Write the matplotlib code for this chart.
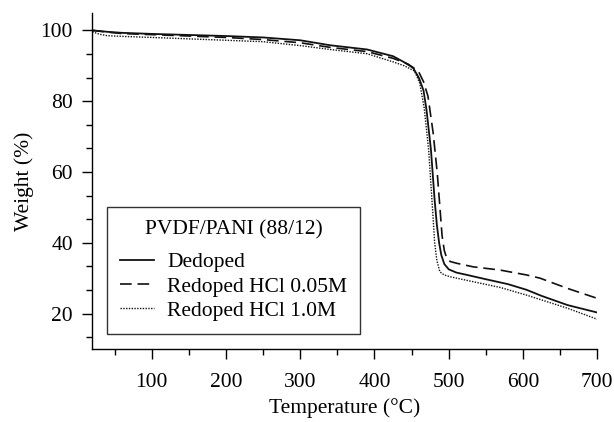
import matplotlib
matplotlib.use('Agg')
import matplotlib.pyplot as plt
from matplotlib.ticker import MultipleLocator, AutoMinorLocator

# TGA curves, weight (%) vs temperature (°C)
temp_dedoped = [20, 40, 60, 100, 150, 200, 250, 300, 340, 390, 425, 440, 452, 460,
                466, 470, 476, 481, 484, 487, 490, 494, 500, 510, 525, 550, 580,
                605, 625, 660, 700]
w_dedoped = [100, 99.6, 99.3, 99.0, 98.7, 98.4, 98.0, 97.2, 95.8, 94.6, 92.7, 91.0,
             89.4, 86.5, 83.0, 77.6, 66.3, 52.0, 45.0, 40.0, 36.5, 34.0, 32.5, 31.6,
             30.9, 29.7, 28.3, 26.7, 25.0, 22.4, 20.3]

temp_hcl005 = [20, 40, 60, 100, 150, 200, 250, 300, 340, 390, 425, 445, 459, 466,
               472, 479, 484.5, 488, 491, 494, 497, 502, 511, 533, 569, 605, 623,
               660, 700]
w_hcl005 = [100, 99.5, 99.1, 98.8, 98.4, 98.0, 97.4, 96.5, 95.2, 94.0, 92.1, 90.5,
            88.5, 85.5, 81.4, 71.0, 59.7, 50.2, 42.0, 37.8, 35.8, 34.7, 34.2, 33.2,
            32.3, 30.9, 30.0, 27.1, 24.3]

temp_hcl1 = [20, 30, 40, 60, 100, 150, 200, 250, 300, 340, 390, 425, 440, 454, 461,
             467, 473, 478, 481, 484, 488, 494, 502, 533, 569, 605, 660, 700]
w_hcl1 = [99.6, 98.9, 98.5, 98.3, 98.0, 97.6, 97.2, 96.8, 95.7, 94.6, 93.4, 91.1,
          90.0, 88.5, 85.0, 78.0, 66.0, 50.0, 40.0, 35.0, 31.8, 30.9, 30.4, 29.0,
          27.4, 25.2, 21.5, 18.4]

plt.rcParams['font.family'] = ['Liberation Serif', 'DejaVu Serif']
plt.rcParams['font.size'] = 15.5

fig = plt.figure(figsize=(6.14, 4.22), dpi=100)
ax = fig.add_axes([0.1503, 0.173, 0.8225, 0.797])

ax.plot(temp_dedoped, w_dedoped, color='#111111', lw=1.3, ls='-', label='Dedoped')
ax.plot(temp_hcl005, w_hcl005, color='#111111', lw=1.2, ls=(0, (7, 3.5)),
        label='Redoped HCl 0.05M')
ax.plot(temp_hcl1, w_hcl1, color='#111111', lw=1.0, ls=(0, (1, 1)),
        label='Redoped HCl 1.0M')

ax.set_xlim(20, 700)
ax.set_ylim(10, 105)
ax.xaxis.set_major_locator(MultipleLocator(100))
ax.xaxis.set_minor_locator(AutoMinorLocator(2))
ax.yaxis.set_major_locator(MultipleLocator(20))
ax.yaxis.set_minor_locator(AutoMinorLocator(3))

for side in ('top', 'right'):
    ax.spines[side].set_visible(False)
for side in ('left', 'bottom'):
    ax.spines[side].set_linewidth(1.0)
ax.tick_params(which='major', direction='out', length=7, width=1.0)
ax.tick_params(axis='x', which='major', pad=10)
ax.tick_params(axis='y', which='major', pad=7)
ax.tick_params(which='minor', direction='out', length=4, width=1.0)

ax.set_xlabel('Temperature (°C)', labelpad=5)
ax.set_ylabel('Weight (%)', labelpad=5)

leg = ax.legend(title='PVDF/PANI (88/12)', loc='lower left',
                bbox_to_anchor=(0.029, 0.045), borderaxespad=0,
                fancybox=False, frameon=True, edgecolor='black',
                handlelength=1.6, handletextpad=0.6, labelspacing=0.2,
                borderpad=0.6, title_fontsize=15.5)
leg.get_frame().set_linewidth(1.0)
leg._legend_box.sep = 9

fig.savefig('out.png', dpi=100)
